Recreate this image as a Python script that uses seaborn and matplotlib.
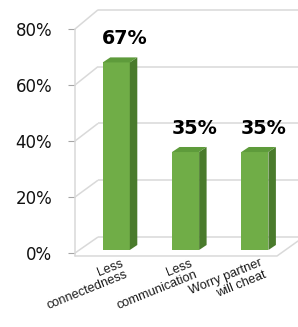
import matplotlib
matplotlib.use("Agg")
import matplotlib.pyplot as plt
from matplotlib.patches import Polygon
import seaborn as sns

categories = ["Less\nconnectedness", "Less\ncommunication", "Worry partner\nwill cheat"]
values = [67, 35, 35]
value_labels = ["67%", "35%", "35%"]
ytick_values = [0, 20, 40, 60, 80]
ytick_labels = ["0%", "20%", "40%", "60%", "80%"]

FRONT = "#70AD47"
TOP = "#5E9B3B"
SIDE = "#4A7B2C"
GRID = "#D9D9D9"

sns.set_theme(style="white")
plt.rcParams["font.family"] = ["DejaVu Sans"]

fig = plt.figure(figsize=(2.98, 3.27), dpi=100)
ax = fig.add_axes([75 / 298, 67 / 327, 223 / 298, 255 / 327])

sns.barplot(x=list(range(len(values))), y=values, width=0.39, color=FRONT,
            saturation=1, ax=ax, zorder=3, linewidth=0)

XL, XR = -0.596, 2.622
XBACK = -0.264          # left edge of back wall
FRONT_OFF = -1.07        # front tick offset (bar-space)
def back_y(v):
    return 4.64 + 1.0143 * v

# gridlines: diagonal from front tick to back wall, then along the back wall
for v in ytick_values:
    ax.plot([XL, XBACK], [v + FRONT_OFF, back_y(v)], color=GRID, lw=1.1,
            zorder=1, clip_on=False, solid_capstyle="butt")
    ax.plot([XBACK, XR + 0.05], [back_y(v), back_y(v)], color=GRID, lw=1.1,
            zorder=1, clip_on=False, solid_capstyle="butt")

# front-left axis line and floor front edge
ax.plot([XL, XL], [80 + FRONT_OFF, -2.14], color=GRID, lw=1.1, zorder=1, clip_on=False)
ax.plot([XL, 2.319, 2.622], [-2.14, -2.14, 3.21], color=GRID, lw=1.1, zorder=1, clip_on=False)

# 3D faces of bars
dx, dy = 0.108, 1.79
for p in list(ax.patches):
    x0, w, h = p.get_x(), p.get_width(), p.get_height()
    side = Polygon([(x0 + w, 0), (x0 + w + dx, dy), (x0 + w + dx, h + dy), (x0 + w, h)],
                   closed=True, facecolor=SIDE, edgecolor="none", zorder=3)
    top = Polygon([(x0, h), (x0 + dx, h + dy), (x0 + w + dx, h + dy), (x0 + w, h)],
                  closed=True, facecolor=TOP, edgecolor="none", zorder=3)
    ax.add_patch(side)
    ax.add_patch(top)

# value labels
for i, (v, lab) in enumerate(zip(values, value_labels)):
    ax.text(i + 0.127, v + 6.6, lab, ha="center", va="baseline",
            fontsize=13.8, fontweight="bold", color="black", zorder=5)

# category labels
for i, lab in enumerate(categories):
    ax.text(i + 0.06, -2.6, lab, rotation=22, rotation_mode="anchor",
            ha="right", va="top", multialignment="right", linespacing=1.05,
            fontsize=9.2, family=["Liberation Sans", "DejaVu Sans"],
            color="#1a1a1a", clip_on=False)

ax.set_xlim(XL, XR)
ax.set_ylim(-3.57, 87.5)
ax.set_xticks([])
ax.set_yticks([v + FRONT_OFF for v in ytick_values])
ax.set_yticklabels(ytick_labels, fontsize=12, color="#111111")
ax.tick_params(axis="y", left=True, length=5, width=0.8, color="#A6A6A6",
               direction="out", pad=11.5)
ax.set_xlabel("")
ax.set_ylabel("")
for s in ax.spines.values():
    s.set_visible(False)
ax.set_facecolor("none")
fig.patch.set_facecolor("white")

fig.savefig("out.png", dpi=100)
